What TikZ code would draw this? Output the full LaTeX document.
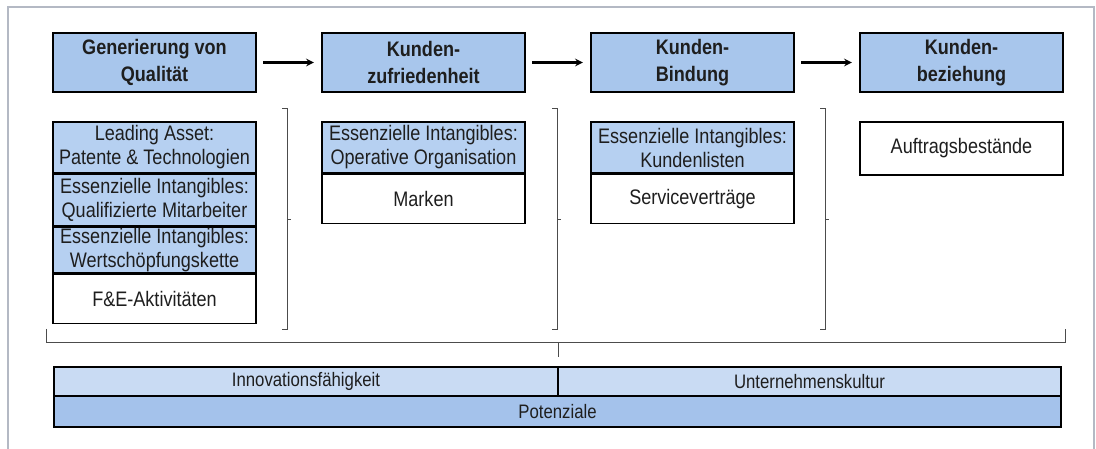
\documentclass[tikz,border=0pt]{standalone}
\usepackage{fontspec}
\setmainfont[FakeStretch=0.86]{Liberation Sans}
\usetikzlibrary{positioning,arrows}
\definecolor{stageblue}{RGB}{168,198,236}
\definecolor{assetblue}{RGB}{182,208,241}
\definecolor{barlight}{RGB}{201,219,243}
\definecolor{bardark}{RGB}{164,194,235}
\definecolor{framegray}{RGB}{180,185,196}
\definecolor{inkgray}{RGB}{30,30,30}
\tikzset{
  stage box/.style={draw=black, line width=2.2pt, fill=stageblue, text=inkgray,
    minimum width=203pt, minimum height=59pt, inner sep=1pt, align=center,
    font=\fontsize{21}{27}\selectfont\bfseries},
  asset box/.style={draw=black, line width=1.5pt, fill=assetblue, text=inkgray,
    minimum width=203pt, minimum height=51pt, inner sep=1pt, align=center,
    font=\fontsize{21}{24}\selectfont},
  plain box/.style={asset box, fill=white, minimum height=49pt},
  base bar/.style={draw=black, line width=1.5pt, text=inkgray, inner sep=0pt,
    minimum height=29pt, font=\fontsize{19.5}{22}\selectfont},
  flow arrow/.style={-stealth, line width=2.4pt, shorten <=6pt, shorten >=7pt},
  brace line/.style={draw=black!70, line width=1pt},
}

\begin{document}
\begin{tikzpicture}[x=1pt,y=-1pt]
  \useasboundingbox (0,0) rectangle (1096,449);
  % Frame
  \draw[framegray, line width=1.5pt] (8,449) -- (8,7) -- (1094,7) -- (1094,449);

  % Stages
  \node[stage box] (gq)  at (154.5,62.5) {Generierung von\\Qualität};
  \node[stage box] (kz)  at (423.5,62.5) {Kunden-\\zufriedenheit};
  \node[stage box] (kb)  at (692.5,62.5) {Kunden-\\Bindung};
  \node[stage box] (kbz) at (961.5,62.5) {Kunden-\\beziehung};

  % Arrows
  \draw[flow arrow] (gq) -- (kz);
  \draw[flow arrow] (kz) -- (kb);
  \draw[flow arrow] (kb) -- (kbz);

  % Assets
  \node[asset box] (la) at (154.5,147.5) {Leading Asset:\\Patente \& Technologien};
  \node[asset box, below=0pt of la] (qm) {Essenzielle Intangibles:\\Qualifizierte Mitarbeiter};
  \node[asset box, below=0pt of qm, minimum height=46pt] (wk) {Essenzielle Intangibles:\\Wertschöpfungskette};
  \node[plain box, below=0pt of wk] (fe) {F\&E-Aktivitäten};

  \node[asset box] (oo) at (423.5,147.5) {Essenzielle Intangibles:\\Operative Organisation};
  \node[plain box, below=0pt of oo] (mk) {Marken};

  \node[asset box] (kl) at (692.5,147.5) {Essenzielle Intangibles:\\Kundenlisten};
  \node[plain box, below=0pt of kl] (sv) {Serviceverträge};

  \node[plain box, minimum height=53pt] (ab) at (961.5,148.5) {Auftragsbestände};

  % Braces
  \draw[brace line] (282,109) -| (287,330) -- (282,330);
  \draw[brace line] (287,219.5) -- (291,219.5);
  \draw[brace line] (552,109) -| (557,330) -- (552,330);
  \draw[brace line] (557,219.5) -- (561,219.5);
  \draw[brace line] (820,109) -| (825,330) -- (820,330);
  \draw[brace line] (825,219.5) -- (829,219.5);

  \draw[brace line] (46,329) |- (1065,343) -- (1065,329);
  \draw[brace line] (558,343) -- (558,357);

  % Potentials
  \node[base bar, fill=barlight, minimum width=504pt] (inno) at (306,381.5) {Innovationsfähigkeit};
  \node[base bar, fill=barlight, minimum width=503pt] (kultur) at (809.5,381.5) {Unternehmenskultur};
  \node[base bar, fill=bardark, minimum width=1007pt, minimum height=31pt] (pot) at (557.5,411.5) {Potenziale};
\end{tikzpicture}
\end{document}
